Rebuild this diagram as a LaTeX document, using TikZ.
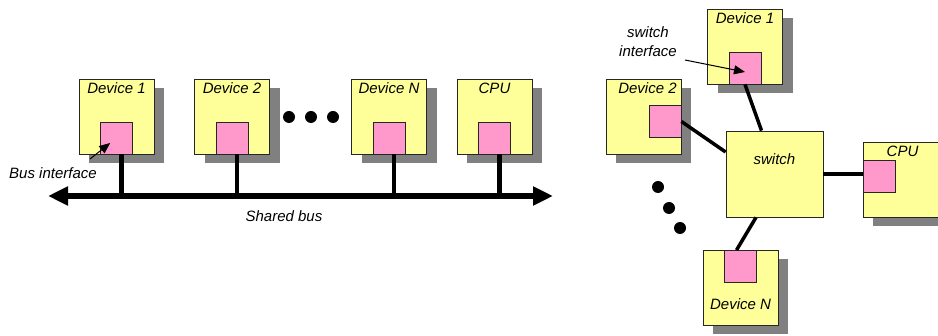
\documentclass[tikz,border=0pt]{standalone}
\usepackage{fontspec}
\setmainfont{Liberation Sans}
\usetikzlibrary{arrows.meta,shadows,positioning}
\definecolor{boxyellow}{HTML}{FFFF99}
\definecolor{portpink}{HTML}{FF99CC}
\tikzset{
  txt/.style={font=\fontsize{15}{19}\selectfont\itshape},
  dev/.style={draw=black!85, line width=0.8pt, fill=boxyellow, minimum size=75pt, inner sep=0pt,
    drop shadow={shadow xshift=10pt, shadow yshift=-9pt, opacity=1, fill=black!50}},
  port/.style={draw=black!85, line width=0.8pt, fill=portpink, minimum size=32pt, inner sep=0pt},
  hub/.style={draw=black!85, line width=0.8pt, fill=boxyellow, minimum width=97pt, minimum height=86pt, inner sep=0pt},
  wire/.style={line width=3.5pt},
  drop/.style={line width=4.5pt},
  bus/.style={line width=6pt, {Triangle[length=20pt,width=18pt]}-{Triangle[length=20pt,width=18pt]}},
  pointer/.style={line width=1pt, -{Triangle[length=11pt,width=9pt]}},
  dot/.style={circle, fill=black, minimum size=12pt, inner sep=0pt},
}
\begin{document}
\begin{tikzpicture}[x=1pt, y=-1pt]
  \useasboundingbox (0,0) rectangle (938,336);
  \clip (0,0) rectangle (938,336);
  % shared bus
  \node[dev, label={[txt, anchor=north, inner sep=4pt]north:Device 1}] (d1) at (116.5,116.5) {};
  \node[dev, label={[txt, anchor=north, inner sep=4pt]north:Device 2}] (d2) at (232,116.5) {};
  \node[dev, label={[txt, anchor=north, inner sep=4pt]north:Device N}] (dn) at (389,116.5) {};
  \node[dev, label={[txt, anchor=north, inner sep=4pt]north:CPU}] (cpu) at (494.5,116.5) {};
  \node[port, anchor=south] (p1) at (d1.south) {};
  \node[port, anchor=south] (p2) at (d2.south) {};
  \node[port, anchor=south] (pn) at (dn.south) {};
  \node[port, anchor=south] (pc) at (cpu.south) {};
  \foreach \x in {289,311,333}
    \node[dot] at (\x,117) {};
  \coordinate (busL) at (48,196);
  \coordinate (busR) at (553,196);
  \draw[bus] (busL) -- (busR);
  \foreach \p in {p1,p2,pn,pc}
    \draw[drop] ([xshift=5pt]\p.south) -- ([xshift=5pt]\p.south |- busL);
  \node[txt] (buslbl) at (284,216) {Shared bus};
  \node[txt] (iflbl) at (53,173) {Bus interface};
  \coordinate (iftail) at (90,159);
  \draw[pointer, shorten >=8pt] (iftail) -- (p1.center);
  % switch
  \node[hub, label={[txt, yshift=15pt]center:switch}] (sw) at (774.5,174) {};
  \node[dev, label={[txt, anchor=north, inner sep=4pt]north:Device 1}] (s1) at (745,46.5) {};
  \node[dev, label={[txt, anchor=north, inner sep=4pt, xshift=4pt]north:Device 2}] (s2) at (643.5,116.5) {};
  \node[dev, label={[txt, anchor=north, inner sep=4pt, xshift=2pt]north:CPU}] (scpu) at (900.5,179.5) {};
  \node[dev, label={[txt, anchor=south, inner sep=16pt]south:Device N}] (sn) at (740.5,288) {};
  \node[port, anchor=south] (q1) at (s1.south) {};
  \node[port, anchor=east] (q2) at (s2.east |- 0,121.5) {};
  \node[port, anchor=west] (qc) at (scpu.west |- 0,176) {};
  \node[port, anchor=north] (qn) at (sn.north) {};
  \draw[wire] (q1.south) -- ([xshift=-13pt]sw.north);
  \draw[wire] (q2.east) -- ([yshift=22pt]sw.west);
  \draw[wire, line width=4.5pt] (sw.east) -- (sw.east -| qc.west);
  \draw[wire] ([xshift=-18.5pt]sw.south) -- ([xshift=-4pt]qn.north);
  \foreach \x/\y in {658/187,669/208,680/228}
    \node[dot] at (\x,\y) {};
  \node[txt, align=center] (swlbl) at (648,42) {switch\\interface};
  \coordinate (swtail) at (685,60);
  \draw[pointer] (swtail) -- ([yshift=-4pt]q1.center);
\end{tikzpicture}
\end{document}
